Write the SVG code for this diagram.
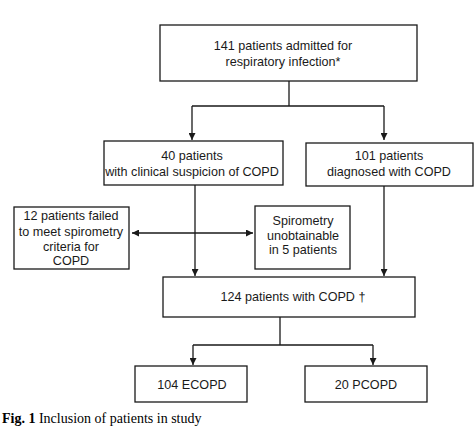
<svg xmlns="http://www.w3.org/2000/svg" width="474" height="427" viewBox="0 0 474 427">
<defs>
<marker id="ah" viewBox="0 0 10 10" refX="10" refY="5" markerWidth="7" markerHeight="7" markerUnits="userSpaceOnUse" orient="auto-start-reverse">
<path d="M0,0 L10,5 L0,10 Z" fill="#1a1a1a"/>
</marker>
<style>
.box{fill:#fff;stroke:#1a1a1a;stroke-width:1.3}
.t{font-family:"Liberation Sans",Arial,sans-serif;font-size:12.6px;fill:#1a1a1a;text-anchor:middle}
.c{fill:none;stroke:#1a1a1a;stroke-width:1.3}
.cap{font-family:"Liberation Serif","Times New Roman",serif;font-size:14px;fill:#000}
</style>
</defs>
<rect width="474" height="427" fill="#fff"/>
<g id="connectors">
<path class="c" d="M289,81 V106 M192,106 H384"/>
<path class="c" d="M192,106 V140" marker-end="url(#ah)"/>
<path class="c" d="M384,106 V140" marker-end="url(#ah)"/>
<path class="c" d="M195,185 V276" marker-end="url(#ah)"/>
<path class="c" d="M384,186 V276" marker-end="url(#ah)"/>
<path class="c" d="M132,233 H253" marker-start="url(#ah)" marker-end="url(#ah)"/>
<path class="c" d="M280,317 V345 M193,345 H373"/>
<path class="c" d="M193,345 V365" marker-end="url(#ah)"/>
<path class="c" d="M373,345 V365" marker-end="url(#ah)"/>
</g>
<g id="n141">
<rect class="box" x="160" y="25" width="257" height="56"/>
<text class="t" x="283" y="50">141 patients admitted for</text>
<text class="t" x="283" y="66">respiratory infection*</text>
</g>
<g id="n40">
<rect class="box" x="104" y="141" width="179" height="44"/>
<text class="t" x="192" y="160">40 patients</text>
<text class="t" x="192" y="176">with clinical suspicion of COPD</text>
</g>
<g id="n101">
<rect class="box" x="306" y="143" width="167" height="43"/>
<text class="t" x="389" y="160">101 patients</text>
<text class="t" x="389" y="176">diagnosed with COPD</text>
</g>
<g id="n12">
<rect class="box" x="14" y="207" width="115" height="62"/>
<text class="t" x="71" y="220">12 patients failed</text>
<text class="t" x="71" y="236">to meet spirometry</text>
<text class="t" x="71" y="251">criteria for</text>
<text class="t" x="71" y="265">COPD</text>
</g>
<g id="nspiro">
<rect class="box" x="255" y="206" width="95" height="63"/>
<text class="t" x="303" y="225">Spirometry</text>
<text class="t" x="303" y="240">unobtainable</text>
<text class="t" x="303" y="254">in 5 patients</text>
</g>
<g id="n124">
<rect class="box" x="163" y="277" width="252" height="40"/>
<text class="t" x="293" y="301">124 patients with COPD †</text>
</g>
<g id="n104">
<rect class="box" x="135" y="366" width="112" height="36"/>
<text class="t" x="192" y="389">104 ECOPD</text>
</g>
<g id="n20">
<rect class="box" x="305" y="366" width="122" height="36"/>
<text class="t" x="366" y="389">20 PCOPD</text>
</g>
<text class="cap" x="2" y="423"><tspan font-weight="bold">Fig. 1</tspan>  Inclusion of patients in study</text>
</svg>
